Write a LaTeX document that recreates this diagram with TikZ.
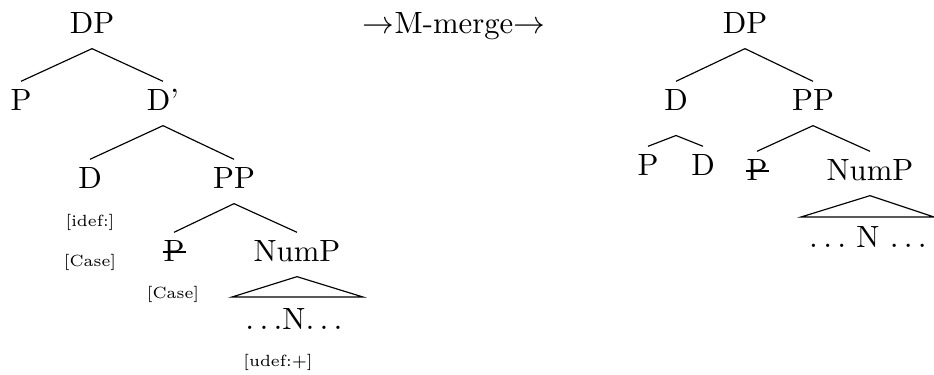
\documentclass[tikz,border=0pt]{standalone}
\usepackage{tikz}
\usepackage{amsmath}

\newcommand{\struck}[1]{\makebox[0pt][l]{\hspace{-0.3pt}\rule[2.9pt]{7.9pt}{0.45pt}}#1}

\begin{document}
\begin{tikzpicture}[x=0.345pt, y=-0.345pt]
\tikzstyle{cat} = [anchor=base, inner sep=2pt, text height=7.7pt, text depth=3.2pt, font=\fontsize{10.6}{12.5}\selectfont]
\tikzstyle{feat} = [anchor=base, inner sep=0pt, font=\fontsize{5.6}{7}\selectfont]
\tikzstyle{branch} = [draw, line width=0.4pt]

\useasboundingbox (0,0) rectangle (934,374);

% before M-merge
\node [cat] (dp) at (92,33) {DP};
\node [cat] (p) at (21,110) {P};
\node [cat] (dbar) at (163,110) {D'};
\node [cat] (d) at (90,188) {D};
\node [cat] (pp) at (234,188) {PP};
\node [cat] (ps) at (174,261) {\struck{P}};
\node [cat] (nump) at (297,261) {NumP};
\node [cat] (n) at (294,329) {$\ldots$N$\ldots$};
\coordinate (trl) at (232,297);
\coordinate (trr) at (363,297);

\node [feat] (idef) at (90,226) {[idef:]};
\node [feat] (cased) at (90,266) {[Case]};
\node [feat] (casep) at (173,298) {[Case]};
\node [feat] (udef) at (278,366) {[udef:+]};

\path [branch] (dp.south) -- (p.north);
\path [branch] (dp.south) -- (dbar.north);
\path [branch] (dbar.south) -- (d.north);
\path [branch] (dbar.south) -- (pp.north);
\path [branch] (pp.south) -- (ps.north);
\path [branch] (pp.south) -- (nump.north);
\path [branch] (nump.south) -- (trl) -- (trr) -- cycle;

\node [cat] (merge) at (454,33) {$\rightarrow$M-merge$\rightarrow$};

% after M-merge
\node [cat] (dp2) at (745,33) {DP};
\node [cat] (d2) at (676,110) {D};
\node [cat] (pp2) at (813,110) {PP};
\node [cat] (p2) at (648,175) {P};
\node [cat] (d3) at (703,175) {D};
\node [cat] (ps2) at (757,180) {\struck{P}};
\node [cat] (nump2) at (870,180) {NumP};
\node [cat] (n2) at (868,247) {$\ldots$ N $\ldots$};
\coordinate (trl2) at (801,217);
\coordinate (trr2) at (934,217);

\path [branch] (dp2.south) -- (d2.north);
\path [branch] (dp2.south) -- (pp2.north);
\path [branch] ([yshift=-3.4pt]d2.south) -- (p2.north);
\path [branch] ([yshift=-3.4pt]d2.south) -- (d3.north);
\path [branch] (pp2.south) -- (ps2.north);
\path [branch] (pp2.south) -- (nump2.north);
\path [branch] (nump2.south) -- (trl2) -- (trr2) -- cycle;

\end{tikzpicture}
\end{document}
